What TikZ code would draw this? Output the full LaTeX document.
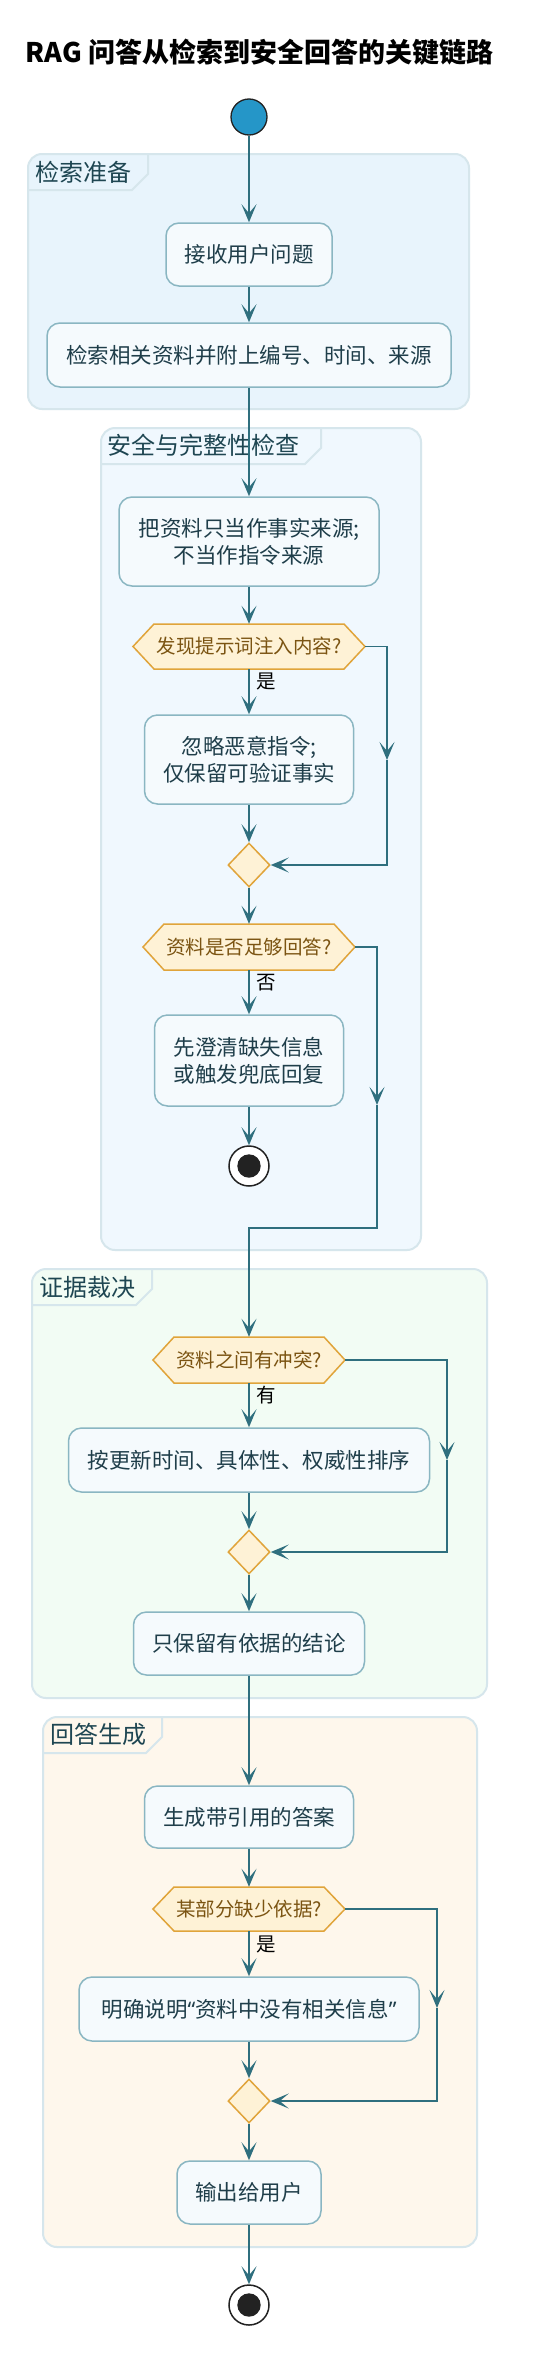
\documentclass[tikz,border=0pt]{standalone}
\usepackage{fontspec}
\setmainfont{Noto Sans CJK SC}
\newfontfamily\latinq{Noto Sans}
\usetikzlibrary{arrows.meta,shapes.geometric,calc}
\definecolor{linec}{HTML}{2F6F7E}
\definecolor{boxfill}{HTML}{F5FAFD}
\definecolor{boxdraw}{HTML}{8AB6C2}
\definecolor{boxtext}{HTML}{1F3E4A}
\definecolor{decfill}{HTML}{FEF2D6}
\definecolor{decdraw}{HTML}{E0A43A}
\definecolor{dectextc}{HTML}{7B5412}
\definecolor{grpdraw}{HTML}{D6E6EC}
\definecolor{grplabel}{HTML}{1E4652}
\definecolor{gAfill}{HTML}{E8F4FC}
\definecolor{gBfill}{HTML}{F0F8FE}
\definecolor{gCfill}{HTML}{F2FCF4}
\definecolor{gDfill}{HTML}{FEF7EC}
\definecolor{startfill}{HTML}{2596C8}
\definecolor{endc}{HTML}{222222}
\newcommand{\hexat}[4]{%
  \draw[hexshape] ({#1-#3},#2) -- ({#1-#3+21},{#2-#4}) -- ({#1+#3-21},{#2-#4}) -- ({#1+#3},#2) -- ({#1+#3-21},{#2+#4}) -- ({#1-#3+21},{#2+#4}) -- cycle;}
\newcommand{\grp}[6]{% x0 y0 x1 y1 fill tabright
  \draw[grpshape, fill=#5] (#1,#2) rectangle (#3,#4);
  \draw[grpdraw, line width=2pt] (#1,{#2+36}) -- ({#6-16},{#2+36}) -- (#6,{#2+20}) -- (#6,#2);}
\begin{document}
\begin{tikzpicture}[x=1pt,y=-1pt,
  flow/.style={line width=1.6pt, draw=linec, -{Stealth[length=18pt,width=15pt,inset=9pt]}},
  actbox/.style={draw=boxdraw, fill=boxfill, line width=1.5pt, rounded corners=13pt, align=center, inner sep=0pt, text=boxtext, font=\fontsize{21.5}{27}\selectfont},
  hexshape/.style={draw=decdraw, fill=decfill, line width=1.5pt},
  dectext/.style={inner sep=0pt, text=dectextc, font=\fontsize{19.5}{24}\selectfont},
  merge/.style={diamond, draw=decdraw, fill=decfill, line width=1.5pt, minimum width=42pt, minimum height=44pt, inner sep=0pt},
  grpshape/.style={draw=grpdraw, line width=2pt, rounded corners=14pt},
  grplbl/.style={anchor=west, inner sep=0pt, text=grplabel, font=\fontsize{24}{28}\selectfont},
  lbl/.style={inner sep=0pt, text=black, font=\fontsize{19.5}{24}\selectfont},
  endnode/.style={circle, draw=endc, fill=white, line width=1.5pt, minimum size=40pt, inner sep=0pt,
    path picture={\fill[endc] (path picture bounding box.center) circle (11.7pt);}}
]
\fill[white] (0,0) rectangle (544,2363);
\useasboundingbox (0,0) rectangle (544,2363);

% title
\node[inner sep=0pt, font=\fontsize{27}{32}\selectfont\bfseries] (title) at (259.5,52) {RAG 问答从检索到安全回答的关键链路};

% groups
\grp{28}{154}{469}{409}{gAfill}{148}
\node[grplbl] (gA) at (35,172) {检索准备};
\grp{101}{428}{421}{1250}{gBfill}{321}
\node[grplbl] (gB) at (107,445) {安全与完整性检查};
\grp{32}{1269}{487}{1698}{gCfill}{152}
\node[grplbl] (gC) at (39,1287) {证据裁决};
\grp{43}{1717}{477}{2247}{gDfill}{162}
\node[grplbl] (gD) at (50,1734) {回答生成};

% start
\node[circle, draw=endc, fill=startfill, line width=1.3pt, minimum size=36pt, inner sep=0pt] (start) at (249,117) {};

% group A
\node[actbox, minimum width=166pt, minimum height=63pt] (a1) at (249,254.5) {接收用户问题};
\node[actbox, minimum width=404pt, minimum height=64pt] (a2) at (249,355) {检索相关资料并附上编号、时间、来源};

% group B
\node[actbox, minimum width=260pt, minimum height=89pt] (a3) at (249,541.5) {把资料只当作事实来源;\\不当作指令来源};
\hexat{249}{646.5}{116}{22.5}
\node[dectext, minimum width=232pt, minimum height=45pt] (d1) at (249,646.5) {发现提示词注入内容?};
\node[lbl] (l1) at (266,681) {是};
\node[actbox, minimum width=209pt, minimum height=89pt] (a4) at (249,759.5) {忽略恶意指令;\\仅保留可验证事实};
\node[merge] (m1) at (249,865) {};
\coordinate (r1) at (387,760);

\hexat{249}{947}{106}{23}
\node[dectext, minimum width=212pt, minimum height=46pt] (d2) at (249,947) {资料是否足够回答?};
\node[lbl] (l2) at (266,983) {否};
\node[actbox, minimum width=189pt, minimum height=91pt] (a5) at (249,1060.5) {先澄清缺失信息\\或触发兜底回复};
\node[endnode] (e1) at (249,1166) {};
\coordinate (r2) at (377,1105);
\coordinate (j2) at (249,1228);

% group C
\hexat{249}{1360}{96}{23}
\node[dectext, minimum width=192pt, minimum height=46pt] (d3) at (249,1360) {资料之间有冲突?};
\node[lbl] (l3) at (266,1395) {有};
\node[actbox, minimum width=361pt, minimum height=64pt] (a6) at (249,1460) {按更新时间、具体性、权威性排序};
\node[merge] (m2) at (249,1552) {};
\coordinate (r3) at (447,1460);
\node[actbox, minimum width=231pt, minimum height=63pt] (a7) at (249,1643.5) {只保留有依据的结论};

% group D
\node[actbox, minimum width=209pt, minimum height=62pt] (a8) at (249,1817) {生成带引用的答案};
\hexat{249}{1909}{96}{22}
\node[dectext, minimum width=192pt, minimum height=44pt] (d4) at (249,1909) {某部分缺少依据?};
\node[lbl] (l4) at (266,1944) {是};
\node[actbox, minimum width=340pt, minimum height=64pt] (a9) at (249,2009) {明确说明{\latinq “}资料中没有相关信息{\latinq ”}};
\node[merge] (m3) at (249,2101) {};
\coordinate (r4) at (437,2008);
\node[actbox, minimum width=144pt, minimum height=63pt] (a10) at (249,2192.5) {输出给用户};
\node[endnode] (e2) at (249,2305) {};

% connectors
\draw[flow] (start) -- (a1);
\draw[flow] (a1) -- (a2);
\draw[flow] (a2) -- (a3);
\draw[flow] (a3) -- (d1.north);
\draw[flow] (d1.south) -- (a4);
\draw[flow] (a4) -- (m1);
\draw[flow] (d1.east) -| (r1);
\draw[flow] (r1) |- (m1.east);
\draw[flow] (m1) -- (d2.north);
\draw[flow] (d2.south) -- (a5);
\draw[flow] (a5) -- (e1);
\draw[flow] (d2.east) -| (r2);
\draw[flow] (r2) |- (j2) -- (d3.north);
\draw[flow] (d3.south) -- (a6);
\draw[flow] (a6) -- (m2);
\draw[flow] (d3.east) -| (r3);
\draw[flow] (r3) |- (m2.east);
\draw[flow] (m2) -- (a7);
\draw[flow] (a7) -- (a8);
\draw[flow] (a8) -- (d4.north);
\draw[flow] (d4.south) -- (a9);
\draw[flow] (a9) -- (m3);
\draw[flow] (d4.east) -| (r4);
\draw[flow] (r4) |- (m3.east);
\draw[flow] (m3) -- (a10);
\draw[flow] (a10) -- (e2);
\end{tikzpicture}
\end{document}
